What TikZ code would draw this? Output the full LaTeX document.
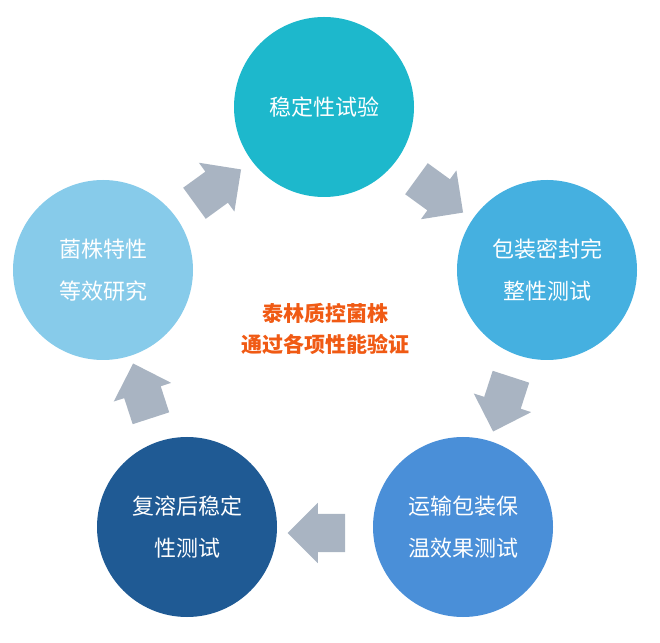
\documentclass[tikz,border=0pt]{standalone}
\usepackage{fontspec}
\setmainfont{Noto Sans CJK SC}
\usetikzlibrary{shapes.arrows}
\definecolor{cA}{HTML}{1DB8CC}
\definecolor{cB}{HTML}{45B0E0}
\definecolor{cC}{HTML}{4A8FD8}
\definecolor{cD}{HTML}{1F5A94}
\definecolor{cE}{HTML}{87CBEA}
\definecolor{ag}{HTML}{A9B4C2}
\definecolor{og}{HTML}{F05A14}
\tikzset{x=1pt,y=1pt,
circ/.style={circle,minimum size=180pt,inner sep=0pt,text=white,font=\fontsize{22}{42}\selectfont,align=center},
barrow/.style={single arrow,fill=ag,minimum height=50pt,minimum width=60pt,single arrow head extend=11pt,single arrow head indent=0pt,inner sep=19pt,shape border uses incircle=false}}
\begin{document}
\begin{tikzpicture}
\useasboundingbox (0,0) rectangle (660,642);
\node[circ,fill=cA] (a) at (324,535) {稳定性试验};
\node[circ,fill=cB] (b) at (547,372) {包装密封完\\整性测试};
\node[circ,fill=cC] (c) at (463,115) {运输包装保\\温效果测试};
\node[circ,fill=cD] (d) at (187,115) {复溶后稳定\\性测试};
\node[circ,fill=cE] (e) at (103,372) {菌株特性\\等效研究};
\node[barrow,rotate=36] (ea) at (210,450) {};
\node[barrow,rotate=-36] (ab) at (432,452) {};
\node[barrow,rotate=-108] (bc) at (505,247) {};
\node[barrow,rotate=180] (cd) at (326,109) {};
\node[barrow,rotate=108] (de) at (145,242) {};
\node[text=og,font=\bfseries\fontsize{21}{31}\selectfont,align=center] (t) at (325,313) {泰林质控菌株\\通过各项性能验证};
\end{tikzpicture}
\end{document}
